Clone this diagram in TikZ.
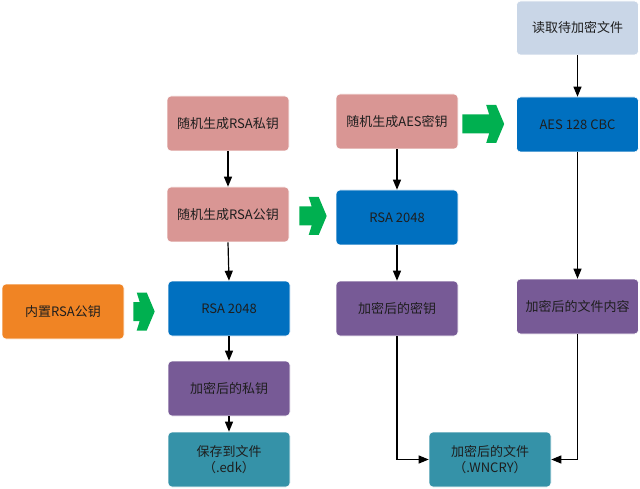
\documentclass[tikz,border=0pt]{standalone}
\usepackage{fontspec}
\setmainfont{Noto Sans CJK SC}
\usetikzlibrary{arrows.meta,calc}
\definecolor{cpink}{HTML}{D99694}
\definecolor{cblue}{HTML}{0070C0}
\definecolor{corange}{HTML}{F08424}
\definecolor{cpurple}{HTML}{775A96}
\definecolor{cteal}{HTML}{3592A8}
\definecolor{clight}{HTML}{C9D6E7}
\definecolor{cgreen}{HTML}{00B050}
\definecolor{ctext}{HTML}{1E1E1E}
\newcommand{\garrow}[2]{%
  \fill[cgreen] let \p1=(#1), \p2=(#2) in
    (\x1,\y1-9.5pt) -- (\x2-15pt,\y1-9.5pt) -- (\x2-18pt,\y1-19pt) -- (\x2-8pt,\y1-19pt)
    -- (\x2,\y1) -- (\x2-8pt,\y1+19pt) -- (\x2-18pt,\y1+19pt) -- (\x2-15pt,\y1+9.5pt)
    -- (\x1,\y1+9.5pt) -- cycle;}
\begin{document}
\begin{tikzpicture}[x=1pt,y=-1pt,
  box/.style={rounded corners=4pt, draw=white, line width=0.6pt, minimum width=122pt,
    minimum height=55pt, inner sep=2pt, align=center, text=ctext,
    font=\fontsize{13pt}{16pt}\selectfont},
  conn/.style={draw=black, line width=1.2pt, -{Triangle[length=10pt,width=8pt]}}]
\useasboundingbox (0,0) rectangle (640,489);
\node[box, fill=clight, minimum height=54pt] (read) at (577.5,28) {读取待加密文件};
\node[box, fill=cblue] (aes) at (577.5,124.5) {AES 128 CBC};
\node[box, fill=cpink] (rsapriv) at (228,123.5) {随机生成RSA私钥};
\node[box, fill=cpink] (aeskey) at (397,121.5) {随机生成AES密钥};
\node[box, fill=cpink] (rsapub) at (228,214.5) {随机生成RSA公钥};
\node[box, fill=cblue] (rsamid) at (397,217.5) {RSA 2048};
\node[box, fill=corange] (builtin) at (63,311.5) {内置RSA公钥};
\node[box, fill=cblue] (rsaleft) at (229,308.5) {RSA 2048};
\node[box, fill=cpurple] (enckey) at (397,308.5) {加密后的密钥};
\node[box, fill=cpurple] (enccont) at (577.5,306.5) {加密后的文件内容};
\node[box, fill=cpurple] (encpriv) at (229,388.5) {加密后的私钥};
\node[box, fill=cteal] (save) at (229,459.5) {保存到文件\\（.edk）};
\node[box, fill=cteal] (encfile) at (490,459.5) {加密后的文件\\（.WNCRY）};
% black connectors
\draw[conn] (rsapriv.south) -- (rsapub.north);
\draw[conn] (rsapub.south) -- (rsaleft.north);
\draw[conn] (rsaleft.south) -- (encpriv.north);
\draw[conn] (encpriv.south) -- (save.north);
\draw[conn] (aeskey.south) -- (rsamid.north);
\draw[conn] (rsamid.south) -- (enckey.north);
\draw[conn] (read.south) -- (aes.north);
\draw[conn] (aes.south) -- (enccont.north);
\draw[conn] (enckey.south) |- (encfile.west);
\draw[conn] (enccont.south) |- (encfile.east);
% green block arrows
\garrow{$(aeskey.east)+(4,2.5)$}{$(aes.west)+(-12,0)$}
\garrow{$(rsapub.east)+(10,1.5)$}{$(rsamid.west)+(-9,0)$}
\garrow{$(builtin.east)+(9,0)$}{$(rsaleft.west)+(-13,0)$}
\end{tikzpicture}
\end{document}
